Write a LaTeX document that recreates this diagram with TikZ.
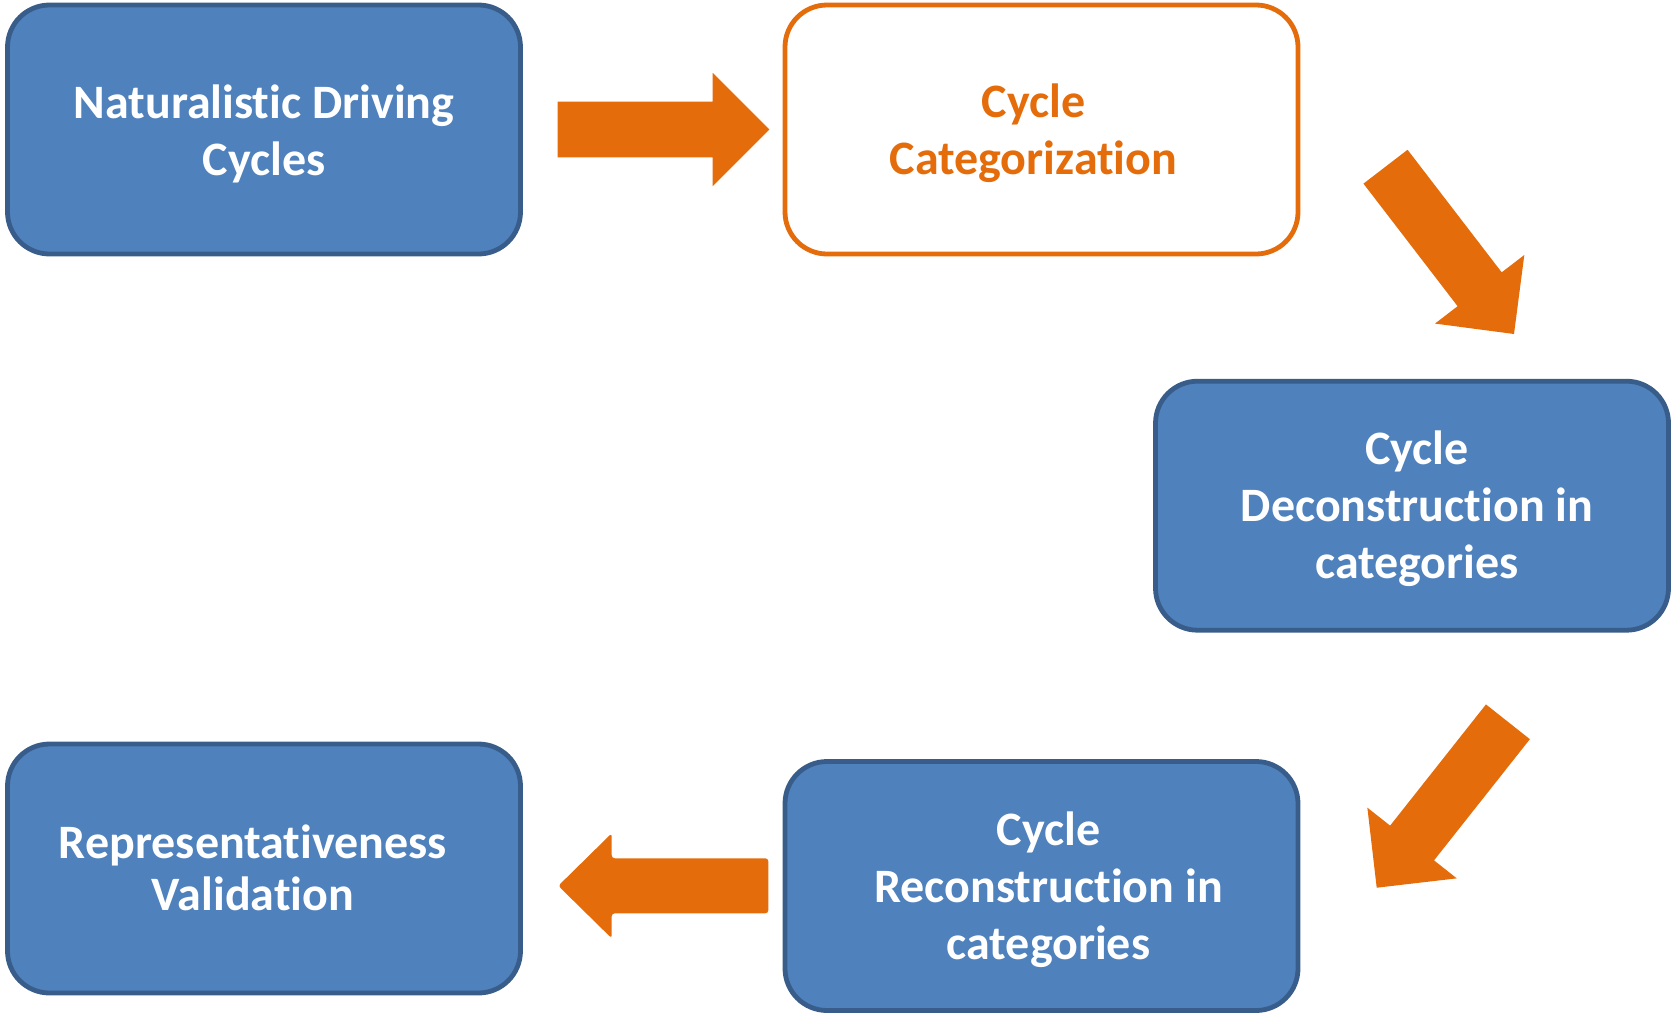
\documentclass[tikz,border=0pt]{standalone}
\usepackage{fontspec}
\setmainfont{Carlito}[Ligatures=NoCommon]
\usetikzlibrary{calc}
\definecolor{boxblue}{HTML}{4F81BD}
\definecolor{boxedge}{HTML}{385D8A}
\definecolor{orng}{HTML}{E46C0A}
% #1 tail, #2 tip, #3 half shaft width, #4 half head width, #5 head length, #6 extra style
\newcommand\blockarrow[6]{%
  \fill[orng,#6] ($(#1)!#3!90:(#2)$) --
    ($(#2)!#5!(#1)!#3!90:(#2)$) --
    ($(#2)!#5!(#1)!#4!90:(#2)$) --
    (#2) --
    ($(#2)!#5!(#1)!#4!-90:(#2)$) --
    ($(#2)!#5!(#1)!#3!-90:(#2)$) --
    ($(#1)!#3!-90:(#2)$) -- cycle;}
\begin{document}
\begin{tikzpicture}[x=1pt,y=-1pt,
  stagebox/.style={draw=boxedge, fill=boxblue, line width=4.8pt, rounded corners=42pt,
    minimum width=513pt, minimum height=249pt, inner sep=0pt},
  catbox/.style={stagebox, draw=orng, fill=white},
  stagetext/.style={text=white, font=\fontsize{48}{57}\selectfont\bfseries, align=center, inner sep=0pt},
  cattext/.style={stagetext, text=orng}]
\useasboundingbox (0,0) rectangle (1672,1012);
\node[stagebox] (b1) at (264,129.5) {};
\node[catbox]   (b2) at (1041.5,129.5) {};
\node[stagebox] (b3) at (1412,505.7) {};
\node[stagebox] (b4) at (1041.5,886) {};
\node[stagebox] (b5) at (264,868.5) {};
\node[stagetext] (t1) at ($(b1)+(0,4)$) {Naturalistic Driving\\Cycles};
\node[cattext]   (t2) at ($(b2)+(-8,3.8)$) {Cycle\\Categorization};
\node[stagetext] (t3) at ($(b3)+(5,3.5)$) {Cycle\\Deconstruction in\\categories};
\node[stagetext] (t4) at ($(b4)+(7,3.5)$) {Cycle\\Reconstruction in\\categories};
\node[stagetext, font=\fontsize{48}{52}\selectfont\bfseries] (t5) at ($(b5)+(-11,-1)$) {Representativeness\\Validation};
\coordinate (a1s) at (557.7,129.5);  \coordinate (a1e) at (769.3,129.5);
\coordinate (a2s) at (1385.5,166.7); \coordinate (a2e) at (1514,334);
\coordinate (a3s) at (1507.9,721.8); \coordinate (a3e) at (1376.7,887.7);
\coordinate (a4s) at (768.3,885.8);  \coordinate (a4e) at (558.3,885.8);
\blockarrow{a1s}{a1e}{27.8pt}{56.6pt}{56.6pt}{}
\blockarrow{a2s}{a2e}{27.8pt}{56.3pt}{56.4pt}{}
\blockarrow{a3s}{a3e}{28pt}{57pt}{57pt}{}
\blockarrow{a4s}{a4e}{27.5pt}{52.5pt}{53.4pt}{rounded corners=3pt}
\end{tikzpicture}
\end{document}
